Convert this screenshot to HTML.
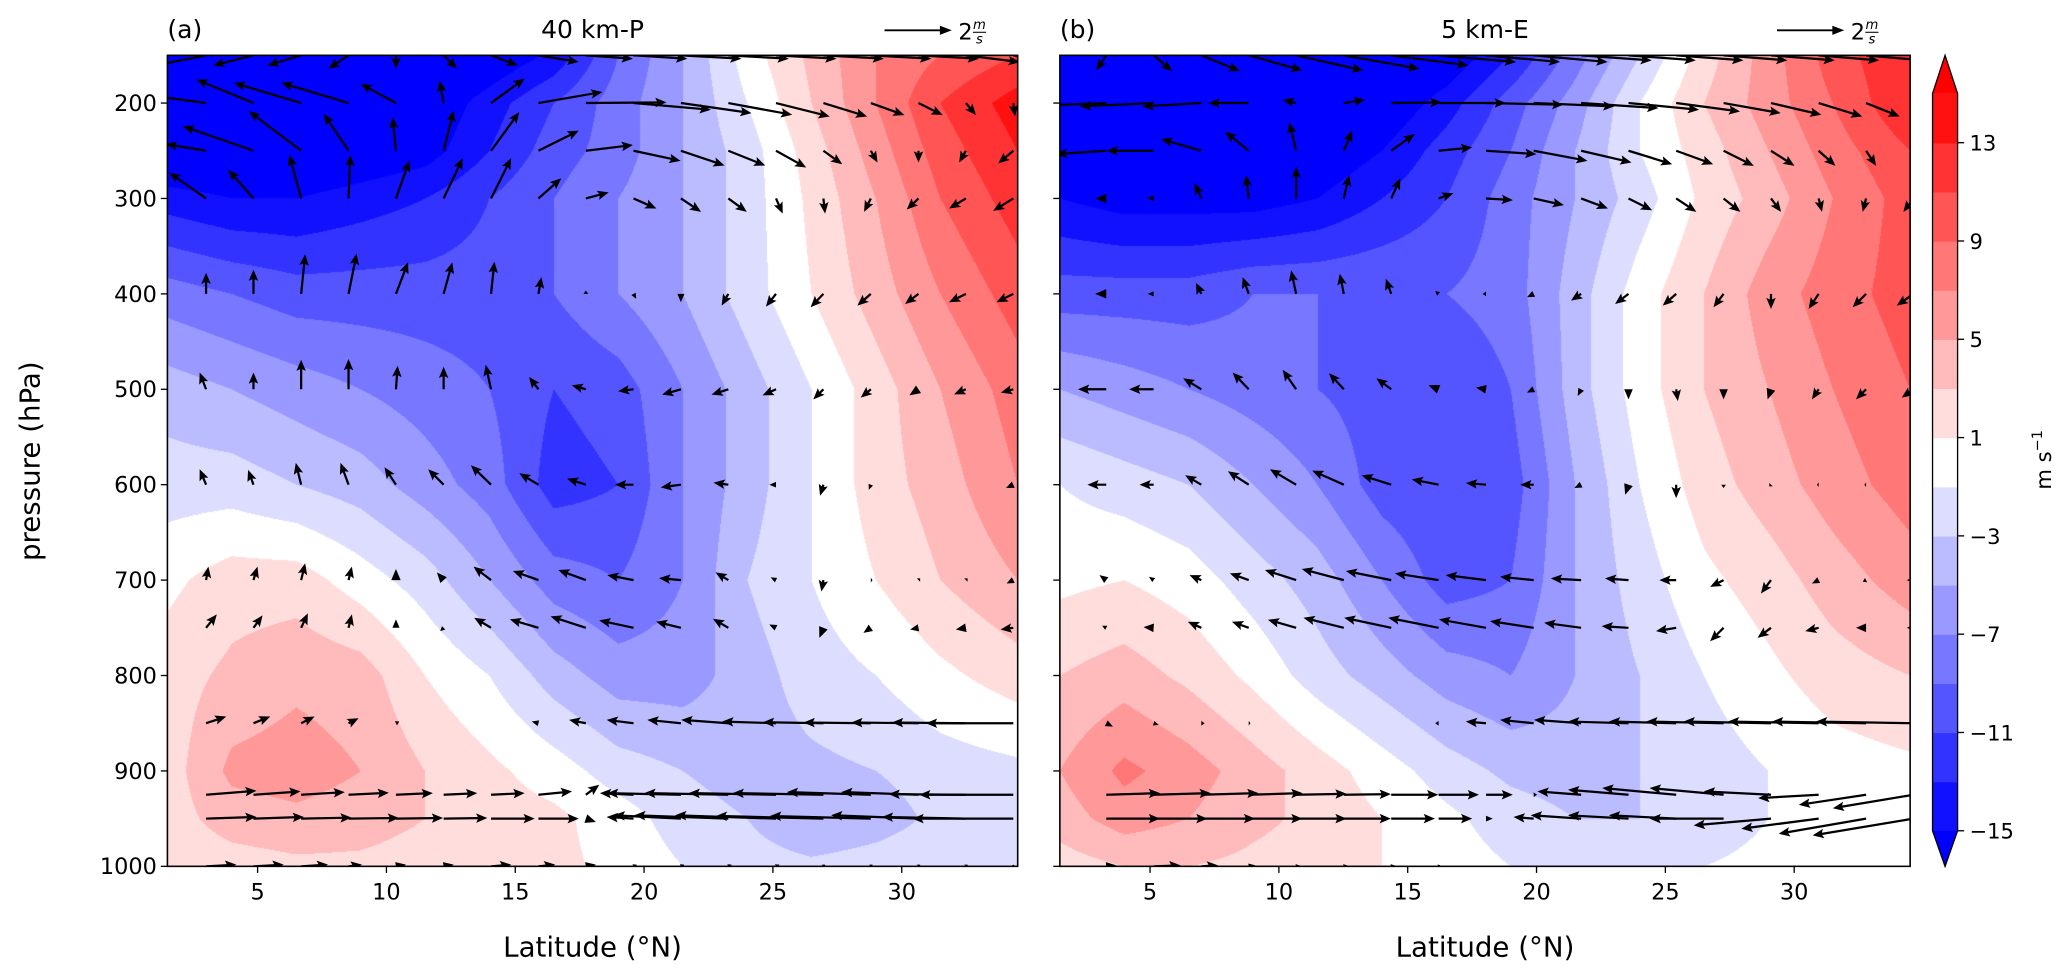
<!DOCTYPE html>
<html><head><meta charset="utf-8">
<style>
html,body{margin:0;padding:0;background:#fff;}
#wrap{position:relative;width:2067px;height:979px;overflow:hidden;}
canvas,svg{position:absolute;left:0;top:0;}
text{font-family:"DejaVu Sans","Liberation Sans",sans-serif;fill:#000;}
</style></head>
<body>
<div id="wrap">
<canvas id="cv" width="2067" height="979"></canvas>
<svg id="sv" width="2067" height="979" viewBox="0 0 1568 743" preserveAspectRatio="none">
 <defs>
  <clipPath id="clipA"><rect x="127" y="42" width="645" height="615.5"/></clipPath>
  <clipPath id="clipB"><rect x="804" y="42" width="645" height="615.5"/></clipPath>
 </defs>
 <g id="quiverA" clip-path="url(#clipA)"></g>
 <g id="quiverB" clip-path="url(#clipB)"></g>
 <g id="axes"></g>
 <text x="127" y="29" font-size="19">(a)</text>
 <text x="449.5" y="29" font-size="19" text-anchor="middle">40 km-P</text>
 <text x="804" y="29" font-size="19">(b)</text>
 <text x="1126.5" y="29" font-size="19" text-anchor="middle">5 km-E</text>
 <g>
  <line x1="671" y1="23" x2="714" y2="23" stroke="#000" stroke-width="1.5"/>
  <polygon points="722,23 713,19.5 713,26.5" fill="#000"/>
  <text x="727" y="30" font-size="17">2</text>
  <text x="743" y="22" font-size="10" text-anchor="middle" font-style="italic">m</text>
  <line x1="738" y1="24.5" x2="748" y2="24.5" stroke="#000" stroke-width="0.8"/>
  <text x="743" y="33" font-size="10" text-anchor="middle" font-style="italic">s</text>
 </g>
 <g>
  <line x1="1348" y1="23" x2="1391" y2="23" stroke="#000" stroke-width="1.5"/>
  <polygon points="1399,23 1390,19.5 1390,26.5" fill="#000"/>
  <text x="1404" y="30" font-size="17">2</text>
  <text x="1420" y="22" font-size="10" text-anchor="middle" font-style="italic">m</text>
  <line x1="1415" y1="24.5" x2="1425" y2="24.5" stroke="#000" stroke-width="0.8"/>
  <text x="1420" y="33" font-size="10" text-anchor="middle" font-style="italic">s</text>
 </g>
 <text transform="translate(30,350) rotate(-90)" font-size="21" text-anchor="middle">pressure (hPa)</text>
 <text x="449.5" y="726" font-size="21" text-anchor="middle">Latitude (°N)</text>
 <text x="1126.5" y="726" font-size="21" text-anchor="middle">Latitude (°N)</text>
 <g id="cbar"></g>
 <text transform="translate(1556,349) rotate(-90)" font-size="16" text-anchor="middle">m s<tspan font-size="11" dy="-7">−1</tspan></text>
</svg>
</div>
<script>
// ---------- data ----------
const LAT = [1.5,4,6.5,9,11.5,14,16.5,19,21.5,24,26.5,29,31.5,34.5];
const PRES = [150,200,250,300,400,500,600,700,800,900,950,1000];
const U_A = [
[-18,-18,-18,-18,-18,-17,-14.5,-9,-5,0,3.5,7,9,11],
[-18,-18,-18,-18,-17,-14,-11,-8,-5,-1,3,7,11,14],
[-18,-18,-18,-17,-16,-13,-10,-8,-5,-2,2,6,10,13],
[-14,-15,-15,-14,-13,-11,-9,-7,-5,-2,1.5,5,9,12],
[-8,-9,-10,-10,-10,-10,-9,-7,-5,-2,1,4,7,10],
[-4,-5,-6,-7,-8,-9,-11,-10,-7,-4,-1,2,5,8],
[-2,-2,-3,-4,-6,-8,-12,-11,-7,-4,-1,2,4,7],
[0.5,2,2,0,-2,-5,-8,-9,-7,-3,-1,1,3,5],
[2,3.5,4.5,4,1,-1,-4,-6,-6,-4,-2,-1,0.5,2],
[2,5.5,6,5,3,1.5,0,-2,-3,-4,-3.5,-3,-2,-1.5],
[2,4,4.5,4,3,2,1.5,0,-2,-3,-5,-4,-2.5,-2],
[1.5,2,2.5,2.5,2,1.5,1.5,0.5,-1,-2,-2.5,-2,-1.5,-1]
];
const U_B = [
[-18,-18,-18,-18,-18,-18,-17,-13,-8,-3,2,6,10,13],
[-18,-18,-18,-18,-18,-17,-14,-10,-6,-1,3,6,9,13],
[-18,-18,-18,-18,-17,-15,-12,-9,-5,-1,2,5,8,11],
[-15,-16,-16,-16,-15,-13,-11,-8,-5,-2,1.5,4,7,10],
[-10,-10,-10,-9,-9,-9,-9,-8,-4,0,3,6,8,10],
[-5,-6,-7,-8,-9,-10,-11,-9,-4,0,3,5,7,9],
[-1,-2,-3,-5,-7,-10,-11,-10,-5,-1,2,4,6,8],
[0.5,1,0,-2,-4,-7,-10,-9,-5,-2,0.5,2,4,6],
[3,4,2.5,0.5,-2,-4,-6,-7,-5,-3,-1,0.5,2,3],
[5,7.5,6,4,2,0,-2,-3.5,-4,-3,-2,-1,0,0.5],
[4,6,5,3.5,2.5,1,-0.5,-2,-3,-3,-2,-1,-0.5,0],
[2,3,3,2.5,2,1,0,-1,-1.5,-1.5,-1,-0.5,0,0]
];
const LEVELS = [-15,-13,-11,-9,-7,-5,-3,-1,1,3,5,7,9,11,13,15];
const CB_TICKS = [-15,-11,-7,-3,1,5,9,13];
const Y_TICKS = [200,300,400,500,600,700,800,900,1000];
const X_TICKS = [5,10,15,20,25,30];

const Q_PRES = [150,200,250,300,400,500,600,700,750,850,925,950,1000];
const QLAT_A = [3.0,4.84,6.69,8.53,10.37,12.22,14.06,15.9,17.74,19.59,21.43,23.27,25.12,26.96,28.8,30.65,32.49,34.33];
const QLAT_B = [3.3,5.14,6.99,8.83,10.67,12.52,14.36,16.2,18.04,19.89,21.73,23.57,25.42,27.26,29.1,30.95,32.79,34.63];
const QU_A = [
[-1.5,-1.2,-1.0,-0.6,0,0.4,0.8,1.2,1.4,1.6,1.8,1.8,1.8,1.8,1.8,1.8,1.6,1.5],
[-2.2,-1.7,-2.0,-2.0,-1.05,-0.12,1.0,1.9,2.4,2.3,2.1,1.9,1.6,1.3,1.0,0.72,0.3,0.05],
[-1.2,-2.1,-1.56,-0.74,-0.1,0.3,0.84,1.2,1.4,1.4,1.3,1.1,0.9,0.56,0.2,0,-0.2,-0.45],
[-1.1,-0.75,-0.35,0.05,0.4,0.57,0.6,0.68,0.68,0.68,0.6,0.55,0.2,0.05,-0.2,-0.35,-0.5,-0.6],
[0,0,0.12,0.24,0.36,0.26,0.1,0.09,0,0.08,0,-0.2,-0.3,-0.38,-0.4,-0.4,-0.5,-0.5],
[-0.19,0,0,0,0.05,0,-0.16,-0.28,-0.42,-0.46,-0.56,-0.5,-0.4,-0.3,-0.3,-0.27,-0.35,-0.37],
[-0.19,-0.16,-0.16,-0.24,-0.34,-0.46,-0.6,-0.57,-0.56,-0.55,-0.6,-0.44,-0.2,-0.1,-0.06,0.03,0.03,-0.22],
[0.07,0.12,0.12,0.1,0,-0.2,-0.52,-0.76,-0.82,-0.78,-0.65,-0.38,-0.16,-0.06,0.05,0.05,0.05,-0.2],
[0.32,0.27,0.2,0.1,0,-0.1,-0.5,-0.85,-1.05,-1.02,-0.74,-0.46,-0.2,-0.12,-0.22,-0.25,-0.3,-0.38],
[0.6,0.5,0.4,0.3,0.1,0,0,-0.2,-0.5,-0.8,-1.0,-1.4,-1.6,-1.8,-2.0,-2.0,-2.2,-2.6],
[1.5,1.4,1.3,1.2,1.1,1.0,1.0,1.0,0.4,-1.0,-2.2,-2.5,-2.6,-2.7,-2.5,-2.3,-2.3,-2.8],
[1.5,1.5,1.5,1.5,1.4,1.3,1.3,1.2,0.3,-0.8,-2.0,-2.8,-3.0,-3.2,-3.0,-2.6,-2.5,-3.0],
[0.9,0.9,0.8,0.4,0.3,0.3,0.6,0.5,0.3,0.1,0.1,0.1,0.1,0.05,0.05,0.05,0.05,0]
];
const QW_A = [
[-0.3,-0.3,-0.3,-0.4,-0.4,-0.4,-0.3,-0.2,-0.1,-0.1,-0.1,-0.1,-0.1,-0.1,-0.1,-0.1,-0.2,-0.2],
[0.3,0.7,0.6,0.6,0.57,0.67,0.73,0.33,0.02,-0.2,-0.3,-0.35,-0.4,-0.4,-0.36,-0.36,-0.36,-0.4],
[0.2,0.73,1.18,1.1,1.0,1.2,1.15,0.6,0.17,-0.3,-0.44,-0.44,-0.5,-0.4,-0.35,-0.35,-0.35,-0.38],
[0.77,0.85,1.3,1.3,1.13,1.2,1.2,0.6,0.18,-0.3,-0.4,-0.4,-0.45,-0.45,-0.4,-0.33,-0.3,-0.37],
[0.63,0.72,1.18,1.2,0.94,0.94,0.96,0.5,0.1,-0.15,-0.25,-0.35,-0.38,-0.4,-0.35,-0.3,-0.25,-0.25],
[0.5,0.5,0.88,0.9,0.7,0.67,0.73,0.37,0.12,-0.06,-0.16,-0.16,-0.18,-0.3,-0.25,-0.18,-0.15,-0.1],
[0.46,0.44,0.65,0.65,0.52,0.46,0.58,0.34,0.18,0,-0.08,0.06,0,-0.33,-0.15,0,0,-0.1],
[0.4,0.4,0.5,0.4,0.33,0.23,0.4,0.27,0.3,0.15,0.06,0.23,0.08,-0.34,0,0.05,0.05,-0.1],
[0.4,0.37,0.43,0.4,0.25,-0.1,0.3,0.25,0.34,0.22,0.18,0.27,0.1,-0.3,-0.15,-0.05,-0.05,-0.05],
[0.2,0.2,0.2,0.15,0.05,0,0,0.05,0.1,0.1,0.1,0.1,0.05,0.03,0.02,0.02,0.02,0],
[0.12,0.1,0.08,0.06,0.05,0.05,0.05,0.1,0.3,0.05,0.05,0.05,0.05,0.05,0.08,0.08,0.02,0],
[0.05,0.05,0.03,0.02,0.02,0.02,0,0,-0.1,0.05,0.1,0.1,0.1,0.08,0.08,0.1,0.05,0],
[0.05,0.05,0.05,0.05,0.05,0.05,0.05,0.05,0.05,0.05,0.05,0.05,0.05,0.05,0.05,0.05,0.05,0.05]
];
const QU_B = [
[-0.3,0.55,1.15,1.6,2.0,2.25,2.3,2.3,2.2,2.2,2.1,2.0,2.0,1.9,1.9,1.8,1.7,1.6],
[-2.5,-2.2,-1.75,-1.2,-0.4,0.64,1.5,2.0,2.3,2.4,2.3,2.1,1.9,1.7,1.5,1.3,1.0,0.6],
[-1.5,-1.4,-1.2,-0.7,-0.2,0.25,0.7,1.0,1.5,1.6,1.5,1.3,1.1,0.9,0.7,0.5,0.3,0.1],
[-0.33,-0.2,-0.2,-0.08,0,0.16,0.27,0.44,0.8,0.9,0.8,0.7,0.6,0.5,0.3,0.1,-0.1,-0.3],
[-0.33,-0.18,-0.16,-0.18,-0.15,-0.12,-0.16,-0.1,-0.1,-0.2,-0.3,-0.4,-0.4,-0.3,0,-0.3,-0.4,-0.5],
[-0.84,-0.73,-0.54,-0.48,-0.4,-0.44,-0.44,-0.3,-0.3,-0.2,-0.1,0,0.05,0,-0.1,-0.2,-0.3,-0.35],
[-0.56,-0.42,-0.48,-0.62,-0.78,-0.94,-0.88,-0.8,-0.6,-0.4,-0.2,-0.1,0,0,-0.05,-0.05,-0.05,-0.1],
[-0.2,-0.14,-0.35,-0.56,-0.93,-1.25,-1.35,-1.3,-1.2,-1.0,-0.9,-0.7,-0.5,-0.4,-0.3,-0.2,-0.1,-0.2],
[-0.12,-0.3,-0.4,-0.5,-0.84,-1.2,-1.4,-1.5,-1.4,-1.3,-1.1,-0.8,-0.6,-0.4,-0.4,-0.4,-0.3,-0.2],
[0.2,0.15,0.1,0.05,0,0,0,-0.1,-0.6,-1.0,-1.4,-1.8,-2.0,-2.3,-2.6,-2.7,-2.8,-2.9],
[1.6,1.7,1.7,1.6,1.5,1.4,1.4,1.2,0.8,0.1,-1.3,-1.8,-2.2,-2.2,-2.0,-1.8,-2.0,-2.4],
[1.6,1.6,1.6,1.6,1.5,1.4,1.3,1.0,0.2,-0.6,-1.5,-1.8,-2.0,-2.2,-2.3,-2.3,-2.6,-3.0],
[0.3,0.8,0.5,0.2,0.1,0.1,0.1,0.05,0,0,0,0,0,0,0,0,0,0]
];
const QW_B = [
[-0.45,-0.47,-0.47,-0.45,-0.45,-0.4,-0.3,-0.2,-0.2,-0.2,-0.15,-0.15,-0.15,-0.15,-0.15,-0.15,-0.15,-0.15],
[-0.1,-0.1,-0.1,0,0.1,0.1,0.02,0,-0.05,-0.1,-0.15,-0.2,-0.25,-0.3,-0.35,-0.4,-0.4,-0.4],
[-0.1,0,0.35,0.57,0.85,0.6,0.5,0.1,-0.1,-0.3,-0.35,-0.4,-0.4,-0.45,-0.45,-0.45,-0.45,-0.45],
[0,0.02,0.46,0.7,0.95,0.7,0.6,0.16,-0.05,-0.2,-0.3,-0.35,-0.4,-0.4,-0.4,-0.4,-0.4,-0.4],
[0,0,0.33,0.5,0.7,0.6,0.45,0.08,0,-0.1,-0.2,-0.3,-0.35,-0.4,-0.45,-0.45,-0.4,-0.35],
[0,0,0.33,0.5,0.58,0.48,0.33,0.12,0.05,-0.1,-0.2,-0.3,-0.35,-0.3,-0.3,-0.3,-0.3,-0.25],
[0,0,0.28,0.4,0.46,0.42,0.28,0.16,0.05,0,-0.1,-0.3,-0.4,-0.1,-0.05,0,0,0],
[0.15,0.1,0.15,0.2,0.3,0.33,0.27,0.2,0.15,0.1,0.05,0.05,0,-0.2,-0.4,-0.1,-0.05,0],
[0.06,0.02,0.18,0.18,0.24,0.3,0.3,0.3,0.25,0.2,0.15,0.05,-0.1,-0.4,-0.3,-0.1,0,0],
[-0.1,-0.05,0,0,0,0,0,0,0.05,0.1,0.1,0.05,0.05,0.05,0.05,0.05,0.05,0.05],
[0.05,0.05,0.05,0.05,0.03,0.02,0,0,0,0,0.1,0.15,0.2,0.2,0.1,-0.1,-0.3,-0.4],
[0,0,0,0,0,0,0,0,0,0.05,0.1,0.1,0.1,0,-0.2,-0.3,-0.45,-0.5],
[0.03,0.03,0.03,0.03,0.03,0.03,0.03,0.03,0.03,0.03,0.03,0.03,0.03,0.03,0.03,0.03,0.03,0.03]
];

// ---------- axes geometry (display units, viewBox 1568x743) ----------
const PANELS = [
 {x0:127, U:U_A, QL:QLAT_A, QU:QU_A, QW:QW_A, g:'quiverA', id:'a'},
 {x0:804, U:U_B, QL:QLAT_B, QU:QU_B, QW:QW_B, g:'quiverB', id:'b'}
];
const PW = 645, Y0 = 42, Y1 = 657.5, LAT0 = 1.5, LAT1 = 34.5, P0 = 150, P1 = 1000;
const QSCALE = 25.5;
function xOf(p, lat){ return p.x0 + (lat-LAT0)/(LAT1-LAT0)*PW; }
function yOf(pr){ return Y0 + (pr-P0)/(P1-P0)*(Y1-Y0); }
function latOf(p, x){ return LAT0 + (x-p.x0)/PW*(LAT1-LAT0); }
function presOf(y){ return P0 + (y-Y0)/(Y1-Y0)*(P1-P0); }

function bwr(t){ t=Math.max(0,Math.min(1,t));
 if(t<0.5){ const v=2*t; return [Math.round(v*255),Math.round(v*255),255]; }
 const v=2*(1-t); return [255,Math.round(v*255),Math.round(v*255)]; }
function levelColor(v){
 if(v<LEVELS[0]) return [0,0,255];
 if(v>=LEVELS[LEVELS.length-1]) return [255,0,0];
 let k=0; while(k<LEVELS.length-2 && v>=LEVELS[k+1]) k++;
 const mid=(LEVELS[k]+LEVELS[k+1])/2;
 return bwr((mid-LEVELS[0])/(LEVELS[LEVELS.length-1]-LEVELS[0]));
}
function findIdx(arr, v){ let i=0; while(i<arr.length-2 && v>arr[i+1]) i++; return i; }
function interp(U, lat, pr){
 const i=findIdx(LAT,lat), j=findIdx(PRES,pr);
 let fx=(lat-LAT[i])/(LAT[i+1]-LAT[i]), fy=(pr-PRES[j])/(PRES[j+1]-PRES[j]);
 fx=Math.max(0,Math.min(1,fx)); fy=Math.max(0,Math.min(1,fy));
 const a=U[j][i], b=U[j][i+1], c=U[j+1][i], d=U[j+1][i+1];
 return a*(1-fx)*(1-fy)+b*fx*(1-fy)+c*(1-fx)*fy+d*fx*fy;
}

// ---------- fill ----------
const cv=document.getElementById('cv'), ctx=cv.getContext('2d');
const SX=2067/1568, SY=979/743;
const img=ctx.createImageData(2067,979);
for(let k=0;k<img.data.length;k+=4){img.data[k]=255;img.data[k+1]=255;img.data[k+2]=255;img.data[k+3]=255;}
PANELS.forEach(p=>{
 const X0=Math.round(p.x0*SX), X1=Math.round((p.x0+PW)*SX), YA=Math.round(Y0*SY), YB=Math.round(Y1*SY);
 for(let Y=YA;Y<YB;Y++){
  const pr=presOf((Y+0.5)/SY);
  for(let X=X0;X<X1;X++){
   const lat=latOf(p,(X+0.5)/SX);
   const c=levelColor(interp(p.U,lat,pr));
   const o=(Y*2067+X)*4; img.data[o]=c[0]; img.data[o+1]=c[1]; img.data[o+2]=c[2];
  }
 }
});
ctx.putImageData(img,0,0);

// ---------- quivers ----------
const NS='http://www.w3.org/2000/svg';
function arrow(g, x, y, u, w){
 const dx=u*QSCALE, dy=-w*QSCALE, L=Math.hypot(dx,dy);
 if(L<0.8) return;
 const ax=dx/L, ay=dy/L, nx=-ay, ny=ax;
 let sw=1.7, hl=8.5, hw=3.6, pts;
 if(L<hl){ const s=L/hl; hl*=s; hw*=Math.max(s,0.5);
  pts=[[0,-hw],[L,0],[0,hw]];
 } else {
  pts=[[0,-sw/2],[L-hl*0.85,-sw/2],[L-hl,-hw],[L,0],[L-hl,hw],[L-hl*0.85,sw/2],[0,sw/2]];
 }
 const s=pts.map(q=>(x+ax*q[0]+nx*q[1]).toFixed(2)+','+(y+ay*q[0]+ny*q[1]).toFixed(2)).join(' ');
 const el=document.createElementNS(NS,'polygon');
 el.setAttribute('points',s); el.setAttribute('fill','#000');
 
 
 g.appendChild(el);
}
PANELS.forEach(p=>{
 const g=document.getElementById(p.g);
 Q_PRES.forEach((pr,r)=>{
  p.QL.forEach((lat,c)=>{ arrow(g, xOf(p,lat), yOf(pr), p.QU[r][c], p.QW[r][c]); });
 });
});

// ---------- axes ----------
const axG=document.getElementById('axes');
function mk(tag, attrs, txt){ const e=document.createElementNS(NS,tag); for(const k in attrs) e.setAttribute(k,attrs[k]); if(txt!==undefined) e.textContent=txt; return e; }
PANELS.forEach(p=>{
 const fr=mk('rect',{x:p.x0,y:Y0,width:PW,height:Y1-Y0,fill:'none',stroke:'#000','stroke-width':1.2});
 
 
 axG.appendChild(fr);
 Y_TICKS.forEach(t=>{
  const y=yOf(t);
  const tk=mk('line',{x1:p.x0-5,x2:p.x0,y1:y,y2:y,stroke:'#000','stroke-width':1});
  
  
  axG.appendChild(tk);
  if(p.id==='a'){
   const tl=mk('text',{x:p.x0-8,y:y+6,'font-size':17,'text-anchor':'end'},String(t));
   
   
   axG.appendChild(tl);
  }
 });
 X_TICKS.forEach(t=>{
  const x=xOf(p,t);
  const tk=mk('line',{x1:x,x2:x,y1:Y1,y2:Y1+5,stroke:'#000','stroke-width':1});
  
  
  axG.appendChild(tk);
  const tl=mk('text',{x:x,y:Y1+25,'font-size':17,'text-anchor':'middle'},String(t));
  
  
  axG.appendChild(tl);
 });
});

// ---------- colorbar ----------
const cb=document.getElementById('cbar');
const CBX=1466, CBW=19, CBTOP=71, CBBOT=630.5, TRI=29;
function cbY(v){ return CBBOT - (v-LEVELS[0])/(LEVELS[LEVELS.length-1]-LEVELS[0])*(CBBOT-CBTOP); }
for(let k=0;k<LEVELS.length-1;k++){
 const c=levelColor((LEVELS[k]+LEVELS[k+1])/2);
 const r=mk('rect',{x:CBX,y:cbY(LEVELS[k+1]),width:CBW,height:cbY(LEVELS[k])-cbY(LEVELS[k+1])+0.5,fill:'rgb('+c.join(',')+')'});
 
 
 cb.appendChild(r);
}
const cbTopTri=mk('polygon',{points:`${CBX},${CBTOP} ${CBX+CBW/2},${CBTOP-TRI} ${CBX+CBW},${CBTOP}`,fill:'#ff0000'});


cb.appendChild(cbTopTri);
const cbBotTri=mk('polygon',{points:`${CBX},${CBBOT} ${CBX+CBW/2},${CBBOT+TRI-2} ${CBX+CBW},${CBBOT}`,fill:'#0000ff'});


cb.appendChild(cbBotTri);
const cbOutline=mk('polygon',{points:`${CBX},${CBTOP} ${CBX+CBW/2},${CBTOP-TRI} ${CBX+CBW},${CBTOP} ${CBX+CBW},${CBBOT} ${CBX+CBW/2},${CBBOT+TRI-2} ${CBX},${CBBOT}`,fill:'none',stroke:'#000','stroke-width':1});


cb.appendChild(cbOutline);
CB_TICKS.forEach(t=>{
 const y=cbY(t);
 const tk=mk('line',{x1:CBX+CBW,x2:CBX+CBW+5,y1:y,y2:y,stroke:'#000','stroke-width':1});
 
 
 cb.appendChild(tk);
 const tl=mk('text',{x:CBX+CBW+9,y:y+6,'font-size':16},(t<0?'\u2212':'')+Math.abs(t));
 
 
 cb.appendChild(tl);
});
</script>
</body></html>
